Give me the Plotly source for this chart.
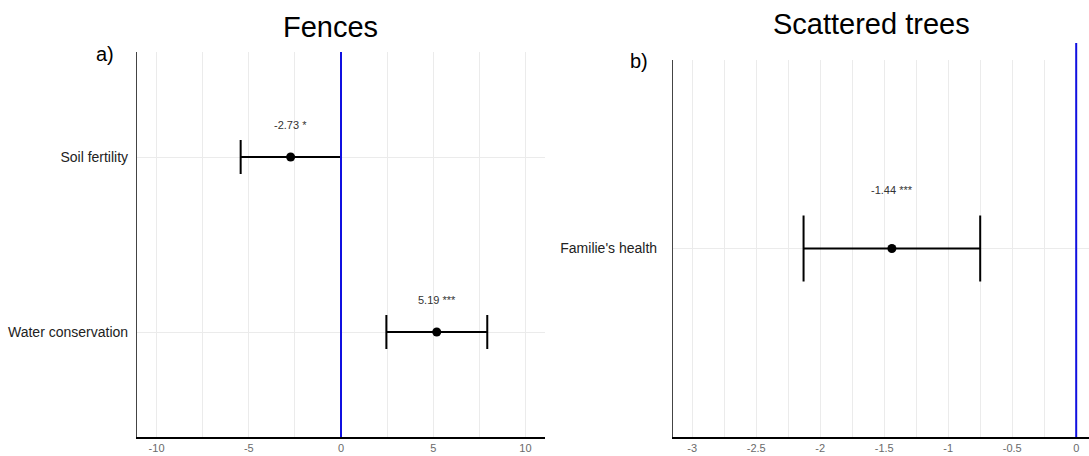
import plotly.graph_objects as go

# Panel a) Fences
a_labels = ["Soil fertility", "Water conservation"]
a_est = [-2.73, 5.19]
a_low = [-5.44, 2.46]
a_high = [0.0, 7.93]
a_text = ["-2.73 *", "5.19 ***"]
a_ypos = [2, 1]

# Panel b) Scattered trees
b_labels = ["Familie's health"]
b_est = [-1.44]
b_low = [-2.13]
b_high = [-0.75]
b_text = ["-1.44 ***"]
b_ypos = [1]

a_ticks = [-10, -5, 0, 5, 10]
b_ticks = [-3, -2.5, -2, -1.5, -1, -0.5, 0]

W, H = 1089, 456
def px(x): return x / W
def py(y): return 1 - y / H

fig = go.Figure()

fig.add_trace(go.Scatter(
    x=a_est, y=a_ypos, mode="markers",
    marker=dict(color="black", size=9),
    error_x=dict(type="data", symmetric=False,
                 array=[h - e for h, e in zip(a_high, a_est)],
                 arrayminus=[e - l for e, l in zip(a_est, a_low)],
                 color="black", thickness=2, width=17),
    xaxis="x", yaxis="y", showlegend=False))

fig.add_trace(go.Scatter(
    x=b_est, y=b_ypos, mode="markers",
    marker=dict(color="black", size=9),
    error_x=dict(type="data", symmetric=False,
                 array=[h - e for h, e in zip(b_high, b_est)],
                 arrayminus=[e - l for e, l in zip(b_est, b_low)],
                 color="black", thickness=2, width=33),
    xaxis="x2", yaxis="y2", showlegend=False))

grid = "#ebebeb"
tickfont = dict(family="Liberation Sans, Arial", size=11, color="#6a6a6a")
catfont = dict(family="Liberation Sans, Arial", size=14, color="#222222")

fig.update_layout(
    width=W, height=H,
    margin=dict(l=0, r=0, t=0, b=0),
    paper_bgcolor="white", plot_bgcolor="white",
    xaxis=dict(domain=[px(137), px(545)], range=[-11.06, 11.06],
               tickvals=a_ticks, ticktext=[str(t) for t in a_ticks],
               showgrid=True, gridcolor=grid, gridwidth=1,
               minor=dict(dtick=2.5, tick0=0, showgrid=True, gridcolor=grid, gridwidth=1),
               zeroline=False, showline=True, linecolor="black", linewidth=1.8,
               ticks="", tickfont=tickfont, anchor="y"),
    yaxis=dict(domain=[py(437), py(52)], range=[0.4, 2.6],
               tickvals=a_ypos, ticktext=a_labels,
               showgrid=True, gridcolor=grid, zeroline=False,
               showline=True, linecolor="#444444", linewidth=1.2,
               ticks="", ticklabelstandoff=5, tickfont=catfont, anchor="x"),
    xaxis2=dict(domain=[px(673), 1.0], range=[-3.15, 0.1],
                tickvals=b_ticks, ticktext=[str(t) for t in b_ticks],
                showgrid=True, gridcolor=grid, gridwidth=1,
                minor=dict(dtick=0.25, tick0=0, showgrid=True, gridcolor=grid, gridwidth=1),
                zeroline=False, showline=True, linecolor="black", linewidth=1.8,
                ticks="", tickfont=tickfont, anchor="y2"),
    yaxis2=dict(domain=[py(437), py(60)], range=[0.4, 1.6],
                tickvals=b_ypos, ticktext=b_labels,
                showgrid=True, gridcolor=grid, zeroline=False,
                showline=True, linecolor="#444444", linewidth=1.2,
                ticks="", ticklabelstandoff=12, tickfont=catfont, anchor="x2"),
)

# blue zero lines
fig.add_shape(type="line", xref="x", yref="paper", x0=0, x1=0,
              y0=py(437), y1=py(52), line=dict(color="#1010e0", width=2), layer="above")
fig.add_shape(type="line", xref="x2", yref="paper", x0=0, x1=0,
              y0=py(437), y1=py(43), line=dict(color="#1010e0", width=2), layer="above")

annfont = dict(family="Liberation Sans, Arial", size=11, color="#333333")
for x, y, t in zip(a_est, a_ypos, a_text):
    fig.add_annotation(x=x, y=y, xref="x", yref="y", text=t, showarrow=False,
                       yshift=32, font=annfont)
for x, y, t in zip(b_est, b_ypos, b_text):
    fig.add_annotation(x=x, y=y, xref="x2", yref="y2", text=t, showarrow=False,
                       yshift=59, font=annfont)

titlefont = dict(family="Liberation Sans, Arial", size=29, color="black")
fig.add_annotation(x=px(330), y=py(27), xref="paper", yref="paper", text="Fences",
                   showarrow=False, font=titlefont, xanchor="center", yanchor="middle")
fig.add_annotation(x=px(871), y=py(24), xref="paper", yref="paper", text="Scattered trees",
                   showarrow=False, font=titlefont, xanchor="center", yanchor="middle")

lblfont = dict(family="Liberation Sans, Arial", size=20, color="black")
fig.add_annotation(x=px(105), y=py(54), xref="paper", yref="paper", text="a)",
                   showarrow=False, font=lblfont, xanchor="center", yanchor="middle")
fig.add_annotation(x=px(639), y=py(61), xref="paper", yref="paper", text="b)",
                   showarrow=False, font=lblfont, xanchor="center", yanchor="middle")

fig.write_html("out.html")
